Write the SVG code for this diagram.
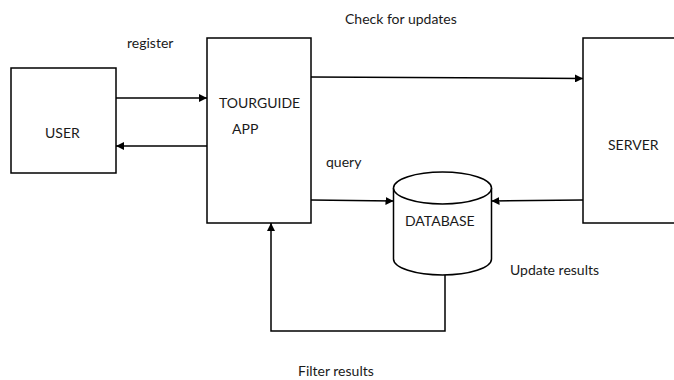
<svg xmlns="http://www.w3.org/2000/svg" width="674" height="380" viewBox="0 0 674 380">
  <style>
    .box { fill: #fff; stroke: #000; stroke-width: 1.5; }
    .line { fill: none; stroke: #000; stroke-width: 1.5; }
    text { font-family: Lato, "Liberation Sans", sans-serif; font-size: 14px; fill: #1a1a1a; }
  </style>
  <defs>
    <marker id="arrow" viewBox="0 0 10 10" refX="10" refY="5" markerWidth="8" markerHeight="8" markerUnits="userSpaceOnUse" orient="auto">
      <path d="M0,0 L10,5 L0,10 Z" fill="#000"/>
    </marker>
  </defs>
  <rect width="674" height="380" fill="#fff"/>

  <g id="user">
    <rect class="box" x="11" y="68" width="105" height="105"/>
    <text x="45" y="138">USER</text>
  </g>

  <g id="tourguide-app">
    <rect class="box" x="207" y="38" width="104" height="185"/>
    <text x="219" y="108">TOURGUIDE</text>
    <text x="232" y="134">APP</text>
  </g>

  <g id="server">
    <rect class="box" x="583" y="38" width="100" height="185"/>
    <text x="608" y="150">SERVER</text>
  </g>

  <g id="database">
    <path class="box" d="M393.5,188 L393.5,259 A49,16 0 0 0 491.5,259 L491.5,188"/>
    <ellipse class="box" cx="442.5" cy="188" rx="49" ry="16"/>
    <text x="405" y="226">DATABASE</text>
  </g>

  <g id="connectors">
    <line class="line" x1="116" y1="98" x2="207" y2="98" marker-end="url(#arrow)"/>
    <line class="line" x1="207" y1="146" x2="116" y2="146" marker-end="url(#arrow)"/>
    <line class="line" x1="311" y1="77" x2="583" y2="78.5" marker-end="url(#arrow)"/>
    <line class="line" x1="311" y1="200" x2="393.5" y2="201" marker-end="url(#arrow)"/>
    <line class="line" x1="583" y1="200" x2="491.5" y2="201" marker-end="url(#arrow)"/>
    <polyline class="line" points="445,275 445,331 271,331 271,223" marker-end="url(#arrow)"/>
  </g>

  <g id="labels">
    <text x="127" y="48">register</text>
    <text x="345" y="24">Check for updates</text>
    <text x="326" y="167">query</text>
    <text x="510" y="275">Update results</text>
    <text x="298" y="376">Filter results</text>
  </g>
</svg>
